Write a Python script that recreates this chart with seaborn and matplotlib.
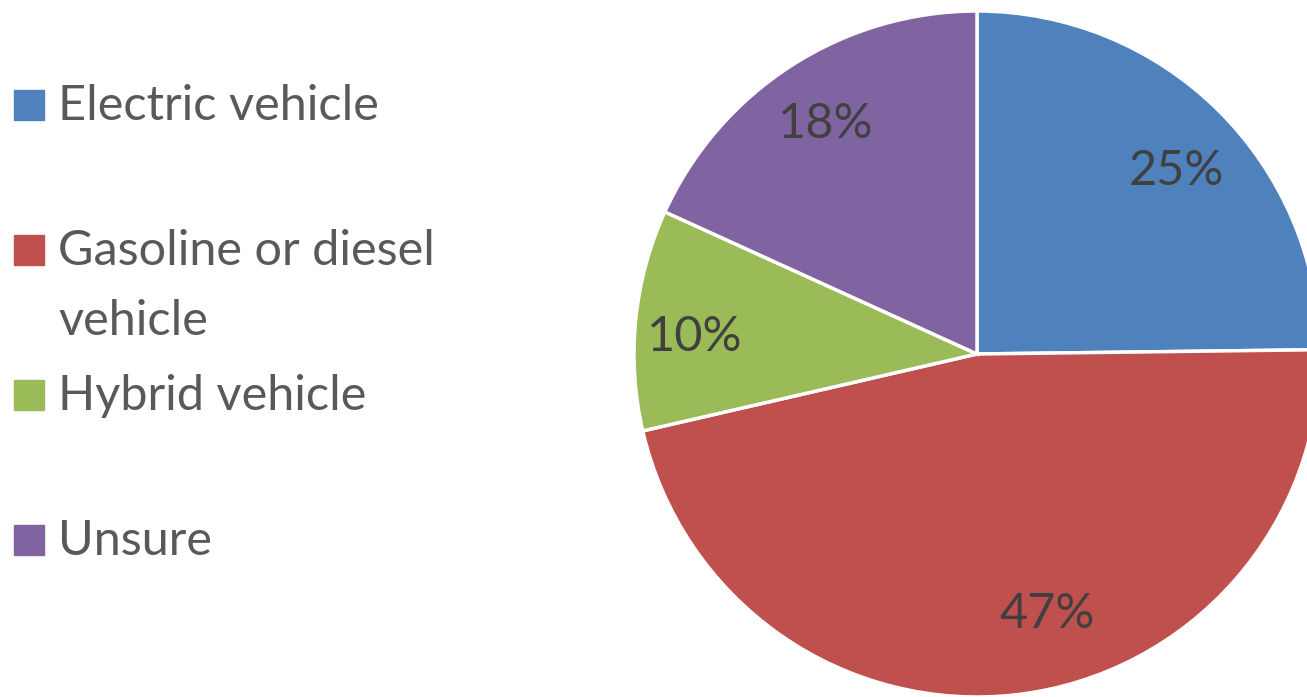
import matplotlib
matplotlib.use("Agg")
import matplotlib.pyplot as plt
import seaborn as sns

# survey shares (percent)
categories = ["Electric vehicle", "Gasoline or diesel\nvehicle", "Hybrid vehicle", "Unsure"]
shares = [24.8, 46.6, 10.4, 18.2]
colors = ["#4F81BD", "#C0504D", "#9BBB59", "#8064A2"]

sns.set_theme(style="white")
plt.rcParams["font.family"] = ["Lato", "DejaVu Sans"]

W, H = 1307, 697
fig = plt.figure(figsize=(W / 100, H / 100), dpi=100)

# pie centre (977, 354) px, radius 343 px
cx, cy, r = 977, 354, 343
ax = fig.add_axes([(cx - r) / W, (H - cy - r) / H, 2 * r / W, 2 * r / H])
wedges, texts = ax.pie(
    shares, colors=colors, startangle=90, counterclock=False,
    labels=[f"{s:.0f}%" for s in shares], labeldistance=0.8,
    wedgeprops=dict(edgecolor="white", linewidth=2.5),
    textprops=dict(color="#404040", fontsize=35, ha="center", va="center_baseline"),
)
# excel-like label spots (px in the image)
label_px = [(1176, 167), (1047, 610), (695, 333), (826, 120)]
for t, (px, py) in zip(texts, label_px):
    t.set_position(((px - cx) / r, -(py - cy) / r))
ax.set_xlim(-1, 1)
ax.set_ylim(-1, 1)
ax.set_aspect("equal")
ax.axis("off")

# manual legend on the left
rows_y = [105, 250, 395, 540]
for lab, col, y in zip(categories, colors, rows_y):
    fig.patches.append(plt.Rectangle((14 / W, 1 - (y + 15) / H), 30 / W, 30 / H,
                                     transform=fig.transFigure, color=col))
    fig.text(58 / W, 1 - (y - 21) / H, lab, fontsize=35, color="#595959",
             va="top", ha="left", linespacing=1.72)

fig.savefig("out.png", dpi=100)
